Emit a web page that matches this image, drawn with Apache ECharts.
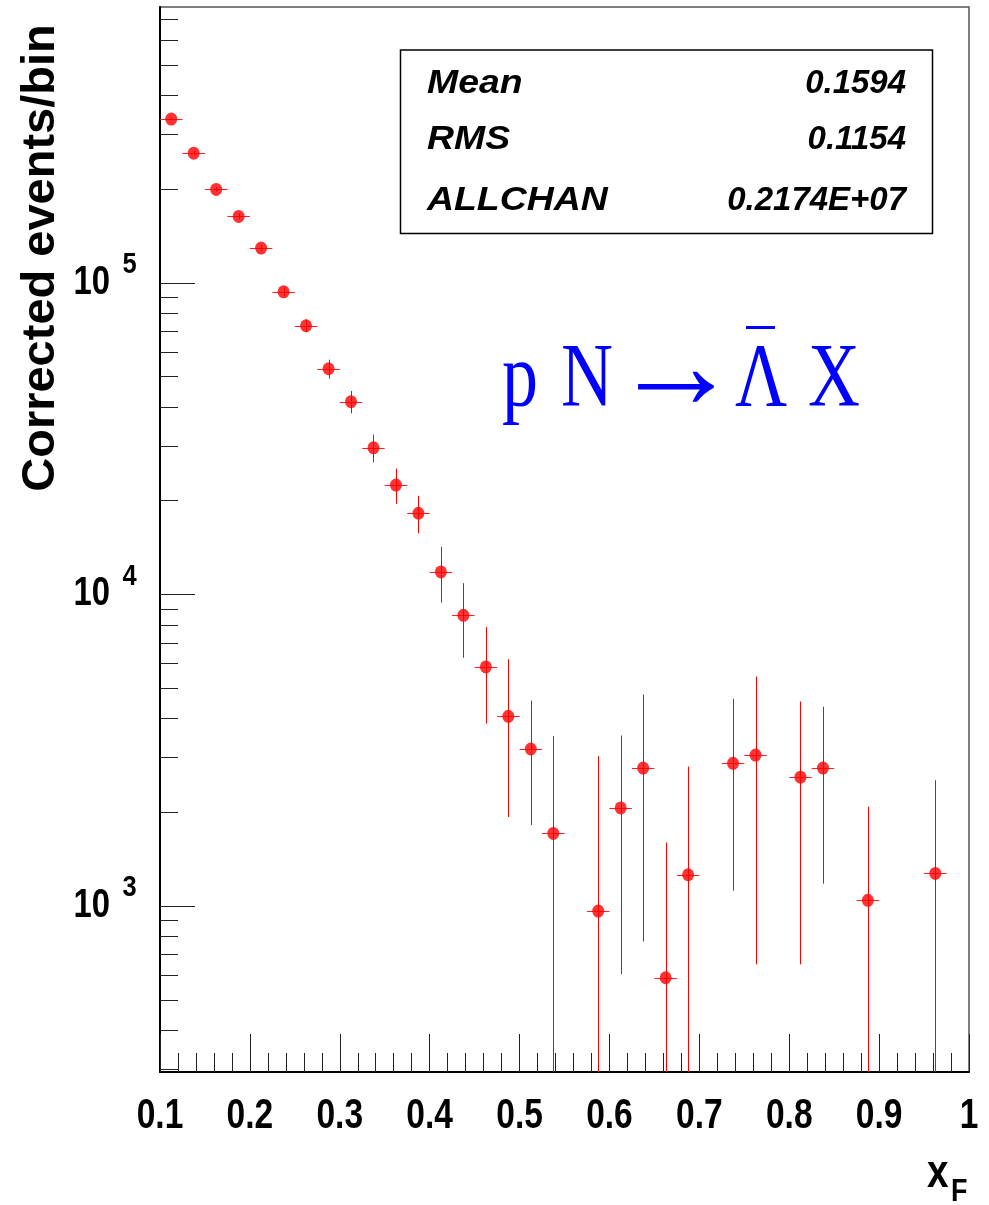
<!DOCTYPE html>
<html><head><meta charset="utf-8">
<script src="https://cdn.jsdelivr.net/npm/echarts@6/dist/echarts.min.js"></script>
<style>html,body{margin:0;padding:0;background:#fff}#c{width:989px;height:1205px}</style>
</head><body><div id="c"></div>
<script>
// ---- data ----
const binWidth = 0.025;
const xCenters = [0.1125,0.1375,0.1625,0.1875,0.2125,0.2375,0.2625,0.2875,0.3125,0.3375,0.3625,0.3875,0.4125,0.4375,0.4625,0.4875,0.5125,0.5375,
                  0.5875,0.6125,0.6375,0.6625,0.6875,0.7375,0.7625,0.8125,0.8375,0.8875,0.9625];
const counts   = [334500,260000,199000,163000,129000,93400,72700,52900,41500,29500,22400,18200,11800,8560,5850,4060,3190,1710,
                  964,2065,2770,589,1260,2870,3050,2590,2770,1043,1273];
const errors   = [4000,4000,3500,3500,3000,3000,3400,3700,3400,3000,2900,2500,2400,2300,2000,2130,1370,1800,
                  2060,1460,2000,1010,1540,1750,2400,1940,1590,1040,1260];
const xTickValues = [0.1,0.2,0.3,0.4,0.5,0.6,0.7,0.8,0.9,1.0];
const xTickLabels = ['0.1','0.2','0.3','0.4','0.5','0.6','0.7','0.8','0.9','1'];
const yDecades = [1000,10000,100000];
const yMinorTicks = [300,400,500,600,700,800,900,2000,3000,4000,5000,6000,7000,8000,9000,
                     20000,30000,40000,50000,60000,70000,80000,90000,200000,300000,400000,500000,600000,700000];
const statNames  = ['Mean','RMS','ALLCHAN'];
const statValues = ['0.1594','0.1154','0.2174E+07'];
const yTitle = 'Corrected events/bin';
const xMin = 0.1, xMax = 1.0, yMin = 293.6, yMax = 765400;

const chart = echarts.init(document.getElementById('c'), null, {renderer:'canvas'});
const pts = xCenters.map((x,i)=>[x,counts[i],errors[i]]);
const statY = [83.5,140,200.5];

const option = {
  animation:false,
  backgroundColor:'#fff',
  grid:{left:160, top:7, width:809, height:1065, show:true, borderColor:'#555', borderWidth:1.5, containLabel:false},
  xAxis:{
    type:'value', min:xMin, max:xMax, interval:0.1,
    axisLine:{show:true, onZero:false, lineStyle:{color:'#000', width:2}},
    axisTick:{show:true, inside:true, length:38, lineStyle:{color:'#222', width:1}},
    minorTick:{show:true, splitNumber:5, length:19, lineStyle:{color:'#222', width:1}},
    splitLine:{show:false},
    axisLabel:{show:false}
  },
  yAxis:{
    type:'log', logBase:10, min:yMin, max:yMax,
    axisLine:{show:true, onZero:false, lineStyle:{color:'#000', width:2}},
    axisTick:{show:false}, axisLabel:{show:false}, splitLine:{show:false}, minorTick:{show:false}
  },
  graphic:[
    {type:'text', x:41, y:258, rotation:Math.PI/2,
      style:{text:yTitle, font:"bold 47px 'Liberation Sans'", fill:'#000', align:'center', verticalAlign:'middle'}},
    {type:'text', x:927, y:1174, scaleX:0.84,
      style:{text:'x', font:"bold 46px 'Liberation Sans'", fill:'#000', align:'left', verticalAlign:'middle'}},
    {type:'text', x:951, y:1192, scaleX:0.84,
      style:{text:'F', font:"bold 32px 'Liberation Sans'", fill:'#000', align:'left', verticalAlign:'middle'}},
    {type:'rect', shape:{x:400.5, y:50, width:532, height:183.5}, style:{fill:'#fff', stroke:'#000', lineWidth:1.5}, z:10},
    ...statNames.map((t,i)=>({type:'text', x:427, y:statY[i], scaleX:1.1, z:11,
      style:{text:t, font:"italic bold 34px 'Liberation Sans'", fill:'#000', align:'left', verticalAlign:'middle'}})),
    ...statValues.map((t,i)=>({type:'text', x:906, y:statY[i], scaleX:0.97, z:11,
      style:{text:t, font:"italic bold 34px 'Liberation Sans'", fill:'#000', verticalAlign:'middle', align:'right'}})),
    ...[['p',502],['N',561],['\u039B',735],['X',808]].map(([t,x])=>({type:'text', x:x, y:382, scaleX:0.8, z:11,
      style:{text:t, font:"90px 'Liberation Serif'", fill:'#0000ff', align:'left', verticalAlign:'middle'}})),
    {type:'text', x:676, y:374, z:11,
      style:{text:'\u2192', font:"128px 'Liberation Serif'", fill:'#0000ff', align:'center', verticalAlign:'middle'}},
    {type:'line', shape:{x1:746, y1:327.5, x2:775, y2:327.5}, style:{stroke:'#0000ff', lineWidth:3}, z:11}
  ],
  series:[
    { // y-axis ticks (decades long, 2..9 short)
      type:'custom', coordinateSystem:'cartesian2d', silent:true, z:3,
      data:[...yDecades.map(v=>[xMin,v,1]), ...yMinorTicks.map(v=>[xMin,v,0])],
      renderItem(params, api){
        const p=api.coord([api.value(0), api.value(1)]);
        const len=api.value(2)?35:18;
        const x0=params.coordSys.x;
        return {type:'line', shape:{x1:x0, y1:Math.round(p[1])+0.5, x2:x0+len, y2:Math.round(p[1])+0.5}, style:{stroke:'#222', lineWidth:1}};
      }
    },
    { // y-axis decade labels 10^n
      type:'custom', coordinateSystem:'cartesian2d', silent:true, z:3,
      data:yDecades.map(v=>[xMin,v]),
      renderItem(params, api){
        const v=api.value(1);
        const p=api.coord([api.value(0), v]);
        const x0=params.coordSys.x;
        const ex=String(Math.round(Math.log10(v)));
        return {type:'group', children:[
          {type:'text', x:x0-50, y:p[1], scaleX:0.82,
            style:{text:'10', font:"bold 40px 'Liberation Sans'", fill:'#000', align:'right', verticalAlign:'middle'}},
          {type:'text', x:x0-37.5, y:p[1]-18, scaleX:0.85,
            style:{text:ex, font:"bold 30px 'Liberation Sans'", fill:'#000', align:'left', verticalAlign:'middle'}}
        ]};
      }
    },
    { // x-axis tick labels
      type:'custom', coordinateSystem:'cartesian2d', silent:true, clip:false, z:3,
      data:xTickValues.map((v,i)=>[v,yMin,i]),
      renderItem(params, api){
        const p=api.coord([api.value(0), api.value(1)]);
        return {type:'text', x:p[0], y:p[1]+44, scaleX:0.78,
          style:{text:xTickLabels[api.value(2)], font:"bold 43px 'Liberation Sans'", fill:'#000', align:'center', verticalAlign:'middle'}};
      }
    },
    { // error bars
      type:'custom', coordinateSystem:'cartesian2d', silent:true, clip:true, z:4,
      data:pts,
      renderItem(params, api){
        const x=api.value(0), y=api.value(1), e=api.value(2);
        const c=api.coord([x,y]);
        const xl=api.coord([x-binWidth/2,y])[0], xr=api.coord([x+binWidth/2,y])[0];
        const cs=params.coordSys;
        const lo=(y-e)>yMin ? api.coord([x,y-e])[1] : cs.y+cs.height;
        const hi=api.coord([x,Math.min(y+e,yMax)])[1];
        const cx=Math.round(c[0])+0.5;
        return {type:'group', children:[
          {type:'line', shape:{x1:xl,y1:Math.round(c[1])+0.5,x2:xr,y2:Math.round(c[1])+0.5}, style:{stroke:'#ff2020', lineWidth:1}},
          {type:'line', shape:{x1:cx,y1:hi,x2:cx,y2:lo}, style:{stroke:'#ff0000', lineWidth:1}}
        ]};
      }
    },
    {
      type:'scatter', z:5, symbol:'circle', symbolSize:[12,13],
      itemStyle:{color:'#ff0000'},
      data:pts.map(p=>[p[0],p[1]])
    }
  ]
};
chart.setOption(option);
</script>
</body></html>
